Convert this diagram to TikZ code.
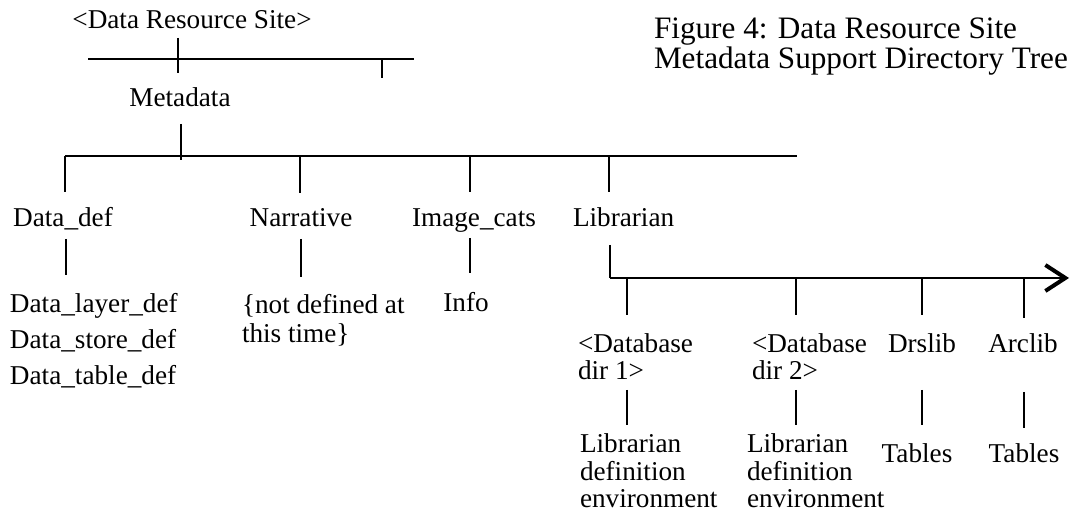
\documentclass[tikz,border=0pt]{standalone}
\usepackage{fontspec}
\setmainfont{Liberation Serif}
\usetikzlibrary{arrows.meta}
\begin{document}
\begin{tikzpicture}[x=0.5pt,y=-0.5pt,
  lbl/.style={inner sep=0pt, outer sep=0pt, font=\fontsize{13.6}{13.75}\selectfont},
  lblw/.style={lbl, anchor=base west, align=left},
  lblc/.style={lbl, anchor=base},
  conn/.style={line width=0.8pt},
  bigarrow/.style={conn, -{Straight Barb[length=10pt,width=13pt,line width=2pt]}}]
\useasboundingbox (0,0) rectangle (1070,512);
% texts (multi-line nodes are placed by the baseline of their last line)
\node[lblc] (site) at (192,29) {<Data Resource Site>};
\node[lblc] (meta) at (180,107) {Metadata};
\node[lblw, font=\fontsize{15.6}{12}\selectfont] (fig) at (654,69) {Figure 4: Data Resource Site\\Metadata Support Directory Tree};
\node[lblc] (datadef) at (63,227) {Data\_def};
\node[lblc] (narr) at (301,227) {Narrative};
\node[lblc] (imgcats) at (474,227) {Image\_cats};
\node[lbl, anchor=base west] (libr) at (573,227) {Librarian};
\node[lblw, font=\fontsize{13.6}{18}\selectfont] (dlist) at (10,385) {Data\_layer\_def\\Data\_store\_def\\Data\_table\_def};
\node[lblw, font=\fontsize{13.6}{14.5}\selectfont] (notdef) at (242,343) {\{not defined at\\this time\}};
\node[lblc] (info) at (466,312) {Info};
\node[lblw] (db1) at (578,380) {<Database\\dir 1>};
\node[lblw] (db2) at (752,380) {<Database\\dir 2>};
\node[lblc] (drslib) at (922,353) {Drslib};
\node[lblc] (arclib) at (1023,353) {Arclib};
\node[lblw, font=\fontsize{13.6}{13.75}\selectfont] (lib1) at (580,508) {Librarian\\definition\\environment};
\node[lblw, font=\fontsize{13.6}{13.75}\selectfont] (lib2) at (747,508) {Librarian\\definition\\environment};
\node[lblc] (tab1) at (917,463) {Tables};
\node[lblc] (tab2) at (1024,463) {Tables};
% coordinates
\coordinate (h1a) at (88,59);   \coordinate (h1b) at (414,59);
\coordinate (s1) at (178,38);   \coordinate (s2) at (178,73);
\coordinate (r1) at (382,59);   \coordinate (r2) at (382,78);
\coordinate (m1) at (181,124);  \coordinate (m2) at (181,160);
\coordinate (h2a) at (65,156);  \coordinate (h2b) at (797,156);
\coordinate (d1) at (65,192);
\coordinate (n0) at (300,156);  \coordinate (n1) at (300,193);
\coordinate (i0) at (470,156);  \coordinate (i1) at (470,192);
\coordinate (l0) at (609,156);  \coordinate (l1) at (609,192);
\coordinate (dd1) at (66,239);  \coordinate (dd2) at (66,275);
\coordinate (nn1) at (301,239); \coordinate (nn2) at (301,277);
\coordinate (ii1) at (470,238); \coordinate (ii2) at (470,273);
\coordinate (ll1) at (610,245); \coordinate (ll2) at (610,278);
\coordinate (aend) at (1069,278);
\coordinate (a1) at (627,278);  \coordinate (a1b) at (627,315);
\coordinate (a2) at (796,278);  \coordinate (a2b) at (796,315);
\coordinate (a3) at (922,278);  \coordinate (a3b) at (922,315);
\coordinate (a4) at (1024,278); \coordinate (a4b) at (1024,318);
\coordinate (b1) at (627,390);  \coordinate (b1b) at (627,425);
\coordinate (b2) at (796,390);  \coordinate (b2b) at (796,425);
\coordinate (b3) at (922,390);  \coordinate (b3b) at (922,425);
\coordinate (b4) at (1024,392); \coordinate (b4b) at (1024,428);
% connectors
\draw[conn] (h1a) -- (h1b);
\draw[conn] (s1) -- (s2);
\draw[conn] (r1) -- (r2);
\draw[conn] (m1) -- (m2);
\draw[conn] (h2a) -- (h2b);
\draw[conn] (h2a) -- (d1);
\draw[conn] (n0) -- (n1);
\draw[conn] (i0) -- (i1);
\draw[conn] (l0) -- (l1);
\draw[conn] (dd1) -- (dd2);
\draw[conn] (nn1) -- (nn2);
\draw[conn] (ii1) -- (ii2);
\draw[conn] (ll1) -- (ll2);
\draw[bigarrow] (ll2) -- (aend);
\draw[conn] (a1) -- (a1b);
\draw[conn] (a2) -- (a2b);
\draw[conn] (a3) -- (a3b);
\draw[conn] (a4) -- (a4b);
\draw[conn] (b1) -- (b1b);
\draw[conn] (b2) -- (b2b);
\draw[conn] (b3) -- (b3b);
\draw[conn] (b4) -- (b4b);
\end{tikzpicture}
\end{document}
